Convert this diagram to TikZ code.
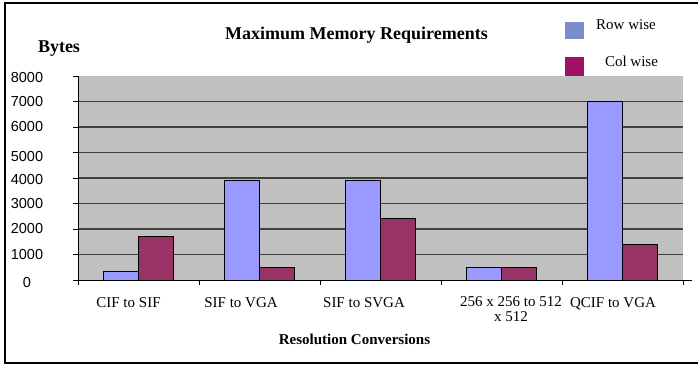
\documentclass[tikz,border=0pt]{standalone}
\usepackage{fontspec}
\setmainfont{Liberation Serif}
\setsansfont{Liberation Sans}
\definecolor{rowblue}{RGB}{153, 153, 255}
\definecolor{colred}{RGB}{153, 51, 102}
\definecolor{legblue}{RGB}{121, 141, 205}
\definecolor{legred}{RGB}{157, 18, 100}
\definecolor{plotgray}{RGB}{192, 192, 192}
\definecolor{gridgray}{RGB}{64, 64, 64}
\usepackage{tikz}

\begin{document}
\begin{tikzpicture}[x=1pt, y=-1pt,
    rowbar/.style={draw=black, fill=rowblue, line width=0.9pt},
    colbar/.style={draw=black, fill=colred, line width=0.9pt},
    gridline/.style={draw=gridgray, line width=1.2pt},
    ticklabel/.style={font=\sffamily\fontsize{14.5}{15}\selectfont, inner sep=0pt},
    catlabel/.style={font=\fontsize{15}{15}\selectfont, anchor=base, inner sep=0pt, align=center},
    bigbold/.style={font=\fontsize{18}{20}\selectfont\bfseries, anchor=base, inner sep=0pt}]
  \useasboundingbox (0,0) rectangle (698,365);

  % Frame
  \draw[line width=1.8pt] (5,3) rectangle (720,363);

  % Title and axis names
  \node[bigbold] (title) at (356.5, 39) {Maximum Memory Requirements};
  \node[bigbold] (bytes) at (59, 52) {Bytes};
  \node[font=\fontsize{15}{15}\selectfont\bfseries, anchor=base, inner sep=0pt] (xname) at (354.5, 344) {Resolution Conversions};

  % Legend
  \node[fill=legblue, minimum width=19pt, minimum height=17pt, inner sep=0pt] (keyrow) at (574.5, 30.5) {};
  \node[fill=legred, minimum width=19pt, minimum height=19pt, inner sep=0pt] (keycol) at (574.5, 66.5) {};
  \node[catlabel] (rowtxt) at (626, 29) {Row wise};
  \node[catlabel] (coltxt) at (631.5, 66) {Col wise};

  % Plot area, values in bytes
  \begin{scope}[shift={(78,280)}, x=1pt, y=0.0255pt]
    \fill[plotgray] (0,0) rectangle (605,8000);
    \foreach \v in {1000,2000,...,7000}
      \draw[gridline] (0,\v) -- (605,\v);

    % CIF to SIF
    \draw[rowbar] (25.5,0) rectangle (60.5,350);
    \draw[colbar] (60.5,0) rectangle (95.5,1700);
    % SIF to VGA
    \draw[rowbar] (146.5,0) rectangle (181.5,3900);
    \draw[colbar] (181.5,0) rectangle (216.5,500);
    % SIF to SVGA
    \draw[rowbar] (267.5,0) rectangle (302.5,3900);
    \draw[colbar] (302.5,0) rectangle (337.5,2400);
    % 256 x 256 to 512 x 512
    \draw[rowbar] (388.5,0) rectangle (423.5,500);
    \draw[colbar] (423.5,0) rectangle (458.5,500);
    % QCIF to VGA
    \draw[rowbar] (509.5,0) rectangle (544.5,7000);
    \draw[colbar] (544.5,0) rectangle (579.5,1400);

    % Axes and ticks
    \draw[line width=0.9pt] (0,8000) -- (0,0) -- (614,0);
    \foreach \v in {0,1000,...,8000}
      \draw[line width=0.9pt] (0,\v) -- ++(-5pt,0pt);
    \foreach \i in {0,...,5}
      \draw[line width=0.9pt] (121*\i,0) -- ++(0pt,-5pt);
  \end{scope}

  % Tick labels
  \node[ticklabel] (t8) at (27, 78) {8000};
  \node[ticklabel] (t7) at (27, 102) {7000};
  \node[ticklabel] (t6) at (27, 127) {6000};
  \node[ticklabel] (t5) at (27, 157) {5000};
  \node[ticklabel] (t4) at (27, 180) {4000};
  \node[ticklabel] (t3) at (27, 204) {3000};
  \node[ticklabel] (t2) at (27, 229) {2000};
  \node[ticklabel] (t1) at (27, 255) {1000};
  \node[ticklabel] (t0) at (27, 283) {0};

  % Category labels
  \node[catlabel] (cif) at (128.5, 307) {CIF to SIF};
  \node[catlabel] (vga) at (241, 307) {SIF to VGA};
  \node[catlabel] (svga) at (364, 307) {SIF to SVGA};
  \node[font=\fontsize{15}{15}\selectfont, inner sep=0pt, align=center] (sq) at (511, 309.5) {256 x 256 to 512\\x 512};
  \node[catlabel] (qcif) at (613, 307) {QCIF to VGA};
\end{tikzpicture}
\end{document}
